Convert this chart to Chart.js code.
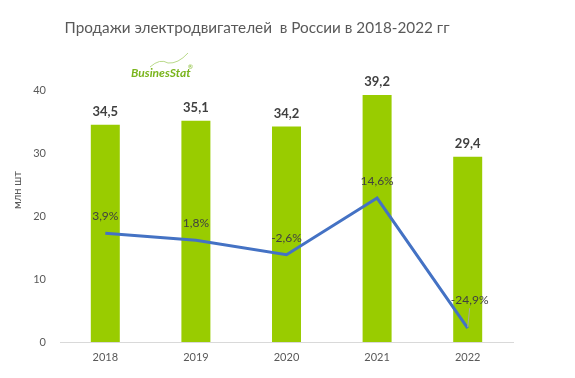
<!DOCTYPE html>
<html><head><meta charset="utf-8">
<script src="https://cdn.jsdelivr.net/npm/chart.js@4"></script>
<style>html,body{margin:0;padding:0;background:#fff}#w{width:575px;height:378px}</style>
</head><body><div id="w"><canvas id="c"></canvas></div>
<script>
const years = ['2018','2019','2020','2021','2022'];
const sales = [34.5, 35.1, 34.2, 39.2, 29.4];
const growth = [3.9, 1.8, -2.6, 14.6, -24.9];
const titleText = 'Продажи электродвигателей  в России в 2018-2022 гг';
const yTitle = 'млн шт';
const FONT = 'Lato, "Open Sans", sans-serif';
const fmt = v => String(v).replace('.', ',');

const labels = {
  id: 'labels',
  afterDatasetsDraw(chart) {
    const ctx = chart.ctx;
    ctx.save();
    ctx.textAlign = 'center';
    ctx.textBaseline = 'middle';
    const bm = chart.getDatasetMeta(0);
    ctx.font = 'bold 13px ' + FONT;
    ctx.fillStyle = '#404040';
    bm.data.forEach((el, i) => {
      ctx.fillText(fmt(sales[i].toFixed(1)), el.x, el.y - 13);
    });
    const lm = chart.getDatasetMeta(1);
    ctx.font = '12px ' + FONT;
    lm.data.forEach((el, i) => {
      const last = i === growth.length - 1;
      const off = last ? 28 : 17;
      ctx.fillStyle = '#404040';
      ctx.fillText(fmt(growth[i].toFixed(1)) + '%', el.x + (last ? 2 : 0), el.y - off);
      if (last) {
        ctx.strokeStyle = '#a6a6a6';
        ctx.lineWidth = 1;
        ctx.beginPath();
        ctx.moveTo(el.x + 2, el.y - 20);
        ctx.lineTo(el.x, el.y - 1);
        ctx.stroke();
      }
    });
    ctx.restore();
  },
  afterDraw(chart) {
    const ctx = chart.ctx;
    ctx.save();
    ctx.fillStyle = '#595959';
    ctx.font = '15.3px ' + FONT;
    ctx.textAlign = 'center';
    ctx.textBaseline = 'middle';
    ctx.fillText(titleText, 257, 28);
    ctx.translate(17, 190);
    ctx.rotate(-Math.PI / 2);
    ctx.font = '11px ' + FONT;
    ctx.fillText(yTitle, 0, 0);
    ctx.restore();
    // logo
    ctx.save();
    ctx.strokeStyle = '#b9d98a';
    ctx.lineWidth = 1;
    ctx.beginPath();
    ctx.moveTo(150, 67);
    ctx.quadraticCurveTo(160, 58, 168, 63);
    ctx.quadraticCurveTo(178, 64, 188, 53);
    ctx.stroke();
    ctx.font = 'italic bold 12px ' + FONT;
    ctx.fillStyle = '#7ab51d';
    ctx.textAlign = 'left';
    ctx.textBaseline = 'middle';
    ctx.fillText('BusinesStat', 131, 73);
    ctx.font = '6px ' + FONT;
    ctx.fillText('®', 188, 67);
    ctx.restore();
  }
};

new Chart(document.getElementById('c'), {
  data: {
    labels: years,
    datasets: [
      { type: 'bar', data: sales, backgroundColor: '#99cc00', barPercentage: 0.32, categoryPercentage: 1, yAxisID: 'y', order: 2 },
      { type: 'line', data: growth, borderColor: '#4472c4', borderWidth: 3, pointRadius: 0, tension: 0, yAxisID: 'y1', order: 1 }
    ]
  },
  options: {
    responsive: true,
    maintainAspectRatio: false,
    animation: false,
    layout: { padding: { top: 90, right: 62, bottom: 0, left: 0 } },
    plugins: { legend: { display: false }, title: { display: false }, tooltip: { enabled: false } },
    scales: {
      x: {
        grid: { display: false, drawTicks: false },
        border: { display: true, color: '#d9d9d9', width: 1 },
        ticks: { color: '#595959', font: { family: FONT, size: 11 }, padding: 9 },
        afterFit(s) { s.height = 36; }
      },
      y: {
        min: 0, max: 40,
        grid: { display: false, drawTicks: false },
        border: { display: false },
        ticks: { stepSize: 10, color: '#595959', font: { family: FONT, size: 11 }, padding: 14 },
        afterFit(s) { s.width = 60; }
      },
      y1: { display: false, min: -29.1, max: 47.4 }
    }
  },
  plugins: [labels]
});
</script></body></html>
